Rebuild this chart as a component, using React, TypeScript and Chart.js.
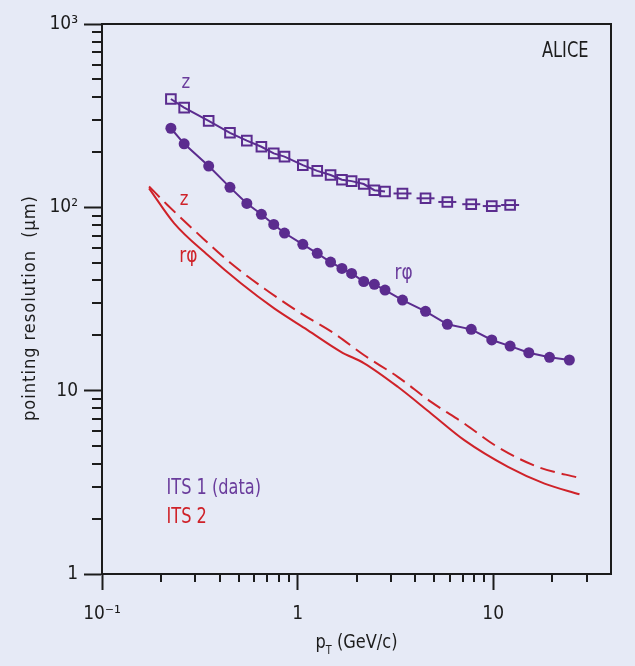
import React, { useEffect, useRef } from 'react';
import { Chart, registerables } from 'chart.js';

Chart.register(...registerables);

// ---------------- data ----------------
// ITS 1 (data): transverse momentum values of the measured points (GeV/c)
const PT_ITS1 = [0.225, 0.263, 0.351, 0.451, 0.55, 0.653, 0.755, 0.857, 1.063, 1.26, 1.474, 1.685, 1.888, 2.178, 2.468, 2.798, 3.437, 4.507, 5.826, 7.72, 9.83, 12.2, 15.2, 19.4, 24.5];
// ITS 1 r-phi pointing resolution (um), filled circles
const RPHI_ITS1 = [270, 222, 168, 128.5, 105, 91.6, 80.7, 72.4, 62.8, 56.1, 50.3, 46.4, 43.6, 39.4, 38.0, 35.4, 31.2, 27.1, 23.0, 21.6, 18.9, 17.5, 16.1, 15.2, 14.7];
// ITS 1 z pointing resolution (um), open squares (first 22 pT values)
const Z_ITS1 = [390, 350, 296, 255, 231, 214, 197, 189, 170, 158, 150, 141.5, 139, 134, 124, 122, 119, 112, 107, 104, 101.6, 103];
const Z_ITS1_CONNECTED = 16; // number of leading z points joined by a line

// ITS 2 (expected): r-phi (solid) and z (dashed)
const PT_ITS2_RPHI = [0.174, 0.234, 0.347, 0.513, 0.759, 1.125, 1.665, 2.19, 3.25, 4.81, 7.11, 11.9, 18.3, 27.6];
const RPHI_ITS2 = [127, 81.8, 54.9, 38.5, 28.1, 21.4, 16.3, 14.1, 10.5, 7.51, 5.37, 3.84, 3.11, 2.72];
const PT_ITS2_Z = [0.174, 0.216, 0.308, 0.456, 0.675, 1.04, 1.54, 2.19, 3.25, 4.81, 7.11, 10.5, 16.9, 27.6];
const Z_ITS2 = [130, 103, 72.1, 49.5, 36.1, 26.4, 20.5, 15.6, 11.9, 8.69, 6.62, 4.94, 3.84, 3.34];

// axes
const X_MIN = 0.1;
const X_MAX = 40;
const Y_MIN = 1;
const Y_MAX = 1000;
const X_MAJOR = [0.1, 1, 10];
const X_LABELS = ['10\u207B\u00B9', '1', '10'];
const Y_MAJOR = [1, 10, 100, 1000];
const Y_LABELS = ['1', '10', '10\u00B2', '10\u00B3'];
const X_TITLE_MAIN = 'p';
const X_TITLE_SUB = 'T';
const X_TITLE_REST = ' (GeV/c)';
const Y_TITLE = 'pointing resolution  (\u03BCm)';

// text annotations (placed in data coordinates)
const NOTES = [
  { text: 'ALICE', x: 30.7, y: 659, color: 'ink', align: 'right', size: 21, squeeze: 0.86 },
  { text: 'z', x: 0.268, y: 446, color: 'purple', align: 'center', size: 20, squeeze: 0.92 },
  { text: 'r\u03C6', x: 3.48, y: 40.4, color: 'purple', align: 'center', size: 21, squeeze: 0.9 },
  { text: 'z', x: 0.263, y: 102.9, color: 'red', align: 'center', size: 20, squeeze: 0.92 },
  { text: 'r\u03C6', x: 0.276, y: 50.5, color: 'red', align: 'center', size: 21, squeeze: 0.9 },
  { text: 'ITS 1 (data)', x: 0.2138, y: 2.72, color: 'purple', align: 'left', size: 21, squeeze: 0.855 },
  { text: 'ITS 2', x: 0.2138, y: 1.898, color: 'red', align: 'left', size: 21, squeeze: 0.855 },
];

// ---------------- styles ----------------
const BG = '#e6eaf6';
const PURPLE = '#5b2c8f';
const PURPLE_TEXT = '#6a3c9c';
const RED = '#cf2229';
const INK = '#1c1c1c';
const NARROW = '"Liberation Sans Narrow", "DejaVu Sans Condensed", "Liberation Sans", sans-serif';

const colorOf = (c: string) => (c === 'purple' ? PURPLE_TEXT : c === 'red' ? RED : INK);

function logTicks(min: number, max: number) {
  const out: { value: number; major: boolean }[] = [];
  const e0 = Math.floor(Math.log10(min) + 1e-9);
  const e1 = Math.ceil(Math.log10(max) - 1e-9);
  for (let e = e0; e <= e1; e++) {
    for (let m = 1; m <= 9; m++) {
      const v = parseFloat((m * Math.pow(10, e)).toPrecision(6));
      if (v < min * 0.999 || v > max * 1.001) continue;
      if (m !== 1 && (v <= min * 1.001 || v >= max * 0.999)) continue;
      out.push({ value: v, major: m === 1 });
    }
  }
  return out;
}

function labelFor(v: number, majors: number[], labels: string[]) {
  for (let i = 0; i < majors.length; i++) {
    if (Math.abs(Math.log10(v) - Math.log10(majors[i])) < 1e-6) return labels[i];
  }
  return '';
}

function squeezedText(ctx: CanvasRenderingContext2D, text: string, x: number, y: number, align: CanvasTextAlign, sx: number) {
  ctx.save();
  ctx.translate(x, y);
  ctx.scale(sx, 1);
  ctx.textAlign = align;
  ctx.textBaseline = 'alphabetic';
  ctx.fillText(text, 0, 0);
  ctx.restore();
}

const decor = {
  id: 'decor',
  afterDatasetsDraw(chart: any) {
    const { ctx } = chart;
    const meta = chart.getDatasetMeta(1);
    ctx.save();
    ctx.strokeStyle = PURPLE;
    ctx.lineWidth = 2;
    for (let i = Z_ITS1_CONNECTED; i < meta.data.length; i++) {
      const el = meta.data[i];
      ctx.beginPath();
      ctx.moveTo(el.x - 9, el.y);
      ctx.lineTo(el.x + 9, el.y);
      ctx.stroke();
    }
    ctx.restore();
  },
  afterDraw(chart: any) {
    const { ctx, chartArea: a } = chart;
    const xs = chart.scales.x;
    const ys = chart.scales.y;
    ctx.save();
    // frame top + right
    ctx.strokeStyle = INK;
    ctx.lineWidth = 2;
    ctx.beginPath();
    ctx.moveTo(a.left - 1, a.top);
    ctx.lineTo(a.right, a.top);
    ctx.lineTo(a.right, a.bottom + 1);
    ctx.stroke();
    // minor ticks
    ctx.beginPath();
    for (const t of xs.ticks) {
      if (t.major) continue;
      const px = Math.round(xs.getPixelForValue(t.value));
      ctx.moveTo(px, a.bottom);
      ctx.lineTo(px, a.bottom + 8);
    }
    for (const t of ys.ticks) {
      if (t.major) continue;
      const py = Math.round(ys.getPixelForValue(t.value));
      ctx.moveTo(a.left - 10, py);
      ctx.lineTo(a.left, py);
    }
    ctx.stroke();

    // x title with subscript (slightly condensed)
    const SQ = 0.9;
    ctx.fillStyle = INK;
    ctx.textBaseline = 'alphabetic';
    ctx.textAlign = 'left';
    const big = `20px ${NARROW}`;
    const small = `12px ${NARROW}`;
    ctx.font = big;
    const w1 = ctx.measureText(X_TITLE_MAIN).width * SQ;
    const w3 = ctx.measureText(X_TITLE_REST).width * SQ;
    ctx.font = small;
    const w2 = ctx.measureText(X_TITLE_SUB).width * SQ;
    const cx = (a.left + a.right) / 2;
    let sx = cx - (w1 + w2 + w3) / 2;
    const base = a.bottom + 74;
    ctx.font = big;
    squeezedText(ctx, X_TITLE_MAIN, sx, base, 'left', SQ);
    sx += w1;
    ctx.font = small;
    squeezedText(ctx, X_TITLE_SUB, sx, base + 6, 'left', SQ);
    sx += w2;
    ctx.font = big;
    squeezedText(ctx, X_TITLE_REST, sx, base, 'left', SQ);

    // y title
    ctx.save();
    ctx.translate(35, (a.top + a.bottom) / 2 + 9);
    ctx.rotate(-Math.PI / 2);
    ctx.font = `18px ${NARROW}`;
    try { (ctx as any).letterSpacing = '1px'; } catch (e) {}
    ctx.textAlign = 'center';
    ctx.fillText(Y_TITLE, 0, 0);
    try { (ctx as any).letterSpacing = '0px'; } catch (e) {}
    ctx.restore();

    // annotations
    for (const n of NOTES) {
      ctx.font = `${n.size}px ${NARROW}`;
      ctx.fillStyle = colorOf(n.color);
      squeezedText(ctx, n.text, xs.getPixelForValue(n.x), ys.getPixelForValue(n.y), n.align as CanvasTextAlign, n.squeeze);
    }
    ctx.restore();
  },
};

export default function App() {
  const ref = useRef<HTMLCanvasElement | null>(null);

  useEffect(() => {
    document.body.style.margin = '0';
    document.body.style.background = BG;
    const canvas = ref.current;
    if (!canvas) return;

    const tickFont = { family: NARROW, size: 19 };

    const chart = new Chart(canvas, {
      type: 'line',
      data: {
        datasets: [
          {
            label: 'ITS 1 r\u03C6',
            data: RPHI_ITS1.map((y, i) => ({ x: PT_ITS1[i], y })),
            borderColor: PURPLE,
            backgroundColor: PURPLE,
            borderWidth: 2,
            pointStyle: 'circle',
            pointRadius: 5.5,
            pointBorderWidth: 0,
            pointBackgroundColor: PURPLE,
            tension: 0,
          },
          {
            label: 'ITS 1 z',
            data: Z_ITS1.map((y, i) => ({ x: PT_ITS1[i], y })),
            borderColor: PURPLE,
            backgroundColor: 'rgba(0,0,0,0)',
            borderWidth: 2,
            pointStyle: 'rect',
            pointRadius: 6.8,
            pointBorderWidth: 2,
            pointBorderColor: PURPLE,
            pointBackgroundColor: 'rgba(0,0,0,0)',
            tension: 0,
            segment: {
              borderColor: (c: any) => (c.p1DataIndex < Z_ITS1_CONNECTED ? PURPLE : 'rgba(0,0,0,0)'),
            },
          },
          {
            label: 'ITS 2 r\u03C6',
            data: RPHI_ITS2.map((y, i) => ({ x: PT_ITS2_RPHI[i], y })),
            borderColor: RED,
            borderWidth: 2,
            pointRadius: 0,
            cubicInterpolationMode: 'monotone',
          },
          {
            label: 'ITS 2 z',
            data: Z_ITS2.map((y, i) => ({ x: PT_ITS2_Z[i], y })),
            borderColor: RED,
            borderWidth: 2,
            borderDash: [15, 7],
            pointRadius: 0,
            cubicInterpolationMode: 'monotone',
          },
        ],
      },
      options: {
        responsive: false,
        animation: false,
        devicePixelRatio: 1,
        layout: { padding: { top: 24, right: 24, left: 0, bottom: 0 } },
        plugins: { legend: { display: false }, tooltip: { enabled: false } },
        scales: {
          x: {
            type: 'logarithmic',
            position: 'bottom',
            min: X_MIN,
            max: X_MAX,
            afterBuildTicks: (s: any) => { s.ticks = logTicks(X_MIN, X_MAX); },
            afterFit: (s: any) => { s.height = 92; },
            grid: {
              drawOnChartArea: false,
              drawTicks: true,
              tickLength: 16,
              tickWidth: 2,
              tickColor: (c: any) => (c.tick && c.tick.major ? INK : 'rgba(0,0,0,0)'),
            },
            border: { display: true, color: INK, width: 2 },
            ticks: {
              autoSkip: false,
              maxRotation: 0,
              color: INK,
              font: tickFont,
              padding: 13,
              callback: (v: any) => labelFor(Number(v), X_MAJOR, X_LABELS),
            },
          },
          y: {
            type: 'logarithmic',
            position: 'left',
            min: Y_MIN,
            max: Y_MAX,
            afterBuildTicks: (s: any) => { s.ticks = logTicks(Y_MIN, Y_MAX); },
            afterFit: (s: any) => { s.width = 102; },
            grid: {
              drawOnChartArea: false,
              drawTicks: true,
              tickLength: 18,
              tickWidth: 2,
              tickColor: (c: any) => (c.tick && c.tick.major ? INK : 'rgba(0,0,0,0)'),
            },
            border: { display: true, color: INK, width: 2 },
            ticks: {
              autoSkip: false,
              color: INK,
              font: tickFont,
              padding: 6,
              callback: (v: any) => labelFor(Number(v), Y_MAJOR, Y_LABELS),
            },
          },
        },
      } as any,
      plugins: [decor],
    } as any);

    return () => chart.destroy();
  }, []);

  return (
    <div style={{ width: 635, height: 666, background: BG }}>
      <canvas ref={ref} width={635} height={666} style={{ display: 'block' }} />
    </div>
  );
}
